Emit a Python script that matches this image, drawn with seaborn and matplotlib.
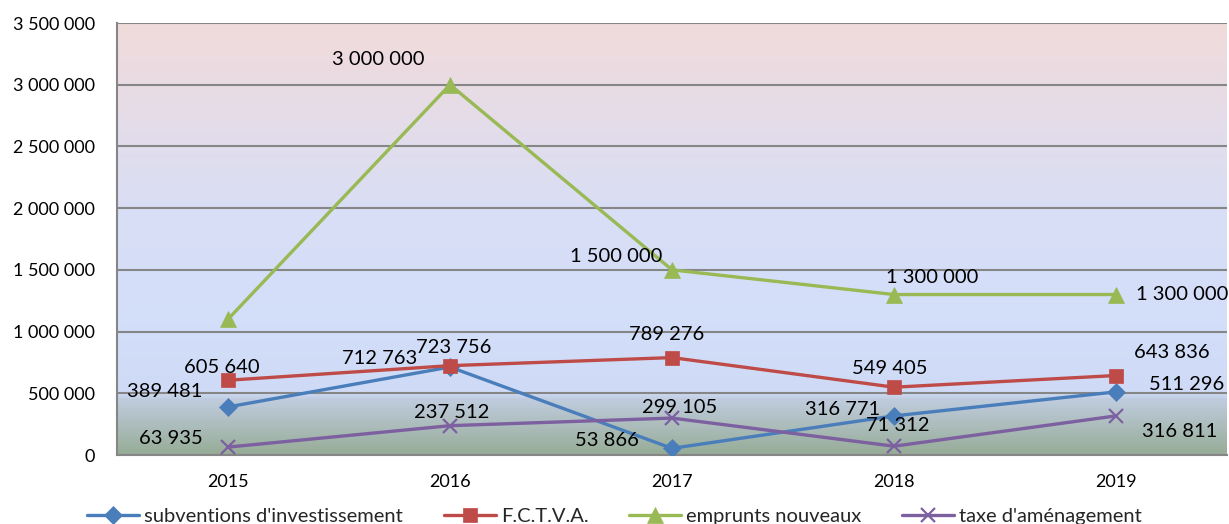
import numpy as np
import pandas as pd
import matplotlib
matplotlib.use("Agg")
import matplotlib.pyplot as plt
import seaborn as sns
from matplotlib.ticker import FuncFormatter

years = ["2015", "2016", "2017", "2018", "2019"]
subventions = [389481, 712763, 53866, 316771, 511296]
fctva = [605640, 723756, 789276, 549405, 643836]
emprunts = [1100000, 3000000, 1500000, 1300000, 1300000]
taxe = [63935, 237512, 299105, 71312, 316811]
series_names = ["subventions d'investissement", "F.C.T.V.A.", "emprunts nouveaux", "taxe d'aménagement"]
# which points carry a label (emprunts 2015 has none)
show_label = [[True] * 5, [True] * 5, [False, True, True, True, True], [True] * 5]

sns.set_theme(style="white")
plt.rcParams['font.family'] = ['Lato', 'DejaVu Sans']

fig = plt.figure(figsize=(12.29, 5.24), dpi=100)
ax = fig.add_axes([117 / 1229, 69 / 524, 1110 / 1229, 432 / 524])

colors = ["#4a7ebb", "#be4b48", "#98b954", "#7d60a0"]
markers = ["D", "s", "^", "x"]
msizes = [9, 10, 11, 10]

# background gradient
ymax = 3500000
stops_y = np.array([0, 450000, 500000, 1200000, 2000000, 3500000]) / ymax
stops_c = np.array([(150, 172, 150), (192, 204, 222), (207, 219, 246),
                    (212, 223, 250), (217, 222, 245), (241, 219, 219)]) / 255.0
yy = np.linspace(0, 1, 400)
grad = np.stack([np.interp(yy, stops_y, stops_c[:, k]) for k in range(3)], axis=-1)
grad = grad[::-1][:, None, :]
ax.imshow(grad, extent=[-0.5, 4.5, 0, ymax], aspect="auto", zorder=0, interpolation="bilinear")

all_vals = [subventions, fctva, emprunts, taxe]
x = np.arange(len(years))
for name, vals, c, m, ms in zip(series_names, all_vals, colors, markers, msizes):
    df = pd.DataFrame({"x": x, "v": vals})
    sns.lineplot(data=df, x="x", y="v", ax=ax, color=c, linewidth=2.4, marker=m,
                 markersize=ms, markeredgecolor=c, markeredgewidth=1.6 if m == "x" else 0.5,
                 label=name, zorder=3)

# label offsets in pixels (style)
offsets = [
    [(-63, 15), (-70, 9), (-65, 8), (-51, 6), (71, 7)],
    [(-6, 13), (4, 18), (-5, 23), (-4, 19), (56, 23)],
    [(0, 0), (-72, 25), (-56, 13), (38, 17), (66, 0)],
    [(-57, 9), (2, 13), (8, 11), (4, 21), (64, -16)],
]

def fmt(v):
    return f"{int(v):,}".replace(",", " ")

for vals, offs, shows in zip(all_vals, offsets, show_label):
    for i, (v, o, s) in enumerate(zip(vals, offs, shows)):
        if not s:
            continue
        ax.annotate(fmt(v), (i, v), xytext=o, textcoords="offset pixels",
                    ha="center", va="center", fontsize=14.5, color="black", zorder=5)

ax.set_xlim(-0.5, 4.5)
ax.set_ylim(0, ymax)
ax.set_yticks(np.arange(0, 3500001, 500000))
ax.yaxis.set_major_formatter(FuncFormatter(lambda v, p: fmt(v)))
ax.set_xticks(x)
ax.set_xticklabels(years)
ax.set_xticks(np.arange(-0.5, 4.6, 1), minor=True)
ax.tick_params(axis="x", which="major", length=0, pad=14, labelsize=13, colors="black")
ax.tick_params(axis="x", which="minor", length=7, width=1.2, color="#868686", direction="out")
ax.tick_params(axis="y", length=8, width=1.2, color="#868686", direction="out", labelsize=13, pad=8,
               labelcolor="black")
ax.grid(axis="y", color="#868686", linewidth=1.5, zorder=1)
ax.set_axisbelow(False)
for l in ax.get_ygridlines():
    l.set_zorder(1)
ax.set_xlabel("")
ax.set_ylabel("")
for sp in ["top", "right"]:
    ax.spines[sp].set_visible(False)
for sp in ["left", "bottom"]:
    ax.spines[sp].set_color("#868686")
    ax.spines[sp].set_linewidth(1.5)

handles, labels = ax.get_legend_handles_labels()
ax.get_legend().remove()
fig.legend(handles, labels, loc="center", bbox_to_anchor=(0.5, 0.014), ncol=4, frameon=False,
           fontsize=14.5, handlelength=2.6, columnspacing=2.0, handletextpad=0.25)

fig.savefig("out.png", dpi=100)
